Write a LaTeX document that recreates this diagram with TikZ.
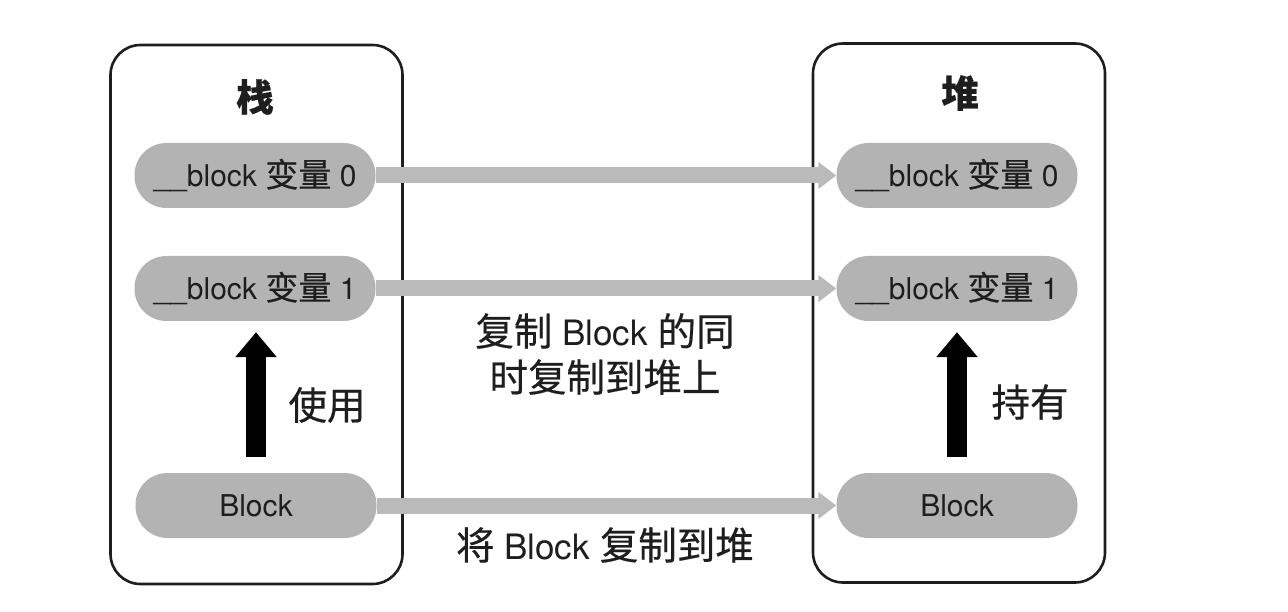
\documentclass[tikz,border=0pt]{standalone}
\usepackage{fontspec}
\setmainfont{TeX Gyre Heros}
\setsansfont{TeX Gyre Heros}
\newfontfamily\cjk{Noto Sans CJK SC}[Scale=1.1, FakeBold=0.5]
\usetikzlibrary{arrows.meta}
\definecolor{ink}{HTML}{1E1E1E}
\definecolor{pillgray}{HTML}{B3B3B3}
\definecolor{arrowgray}{HTML}{BABABA}
\tikzset{
  frame/.style={draw=ink, line width=2.6pt, rounded corners=30pt, minimum width=292pt, minimum height=539pt},
  title/.style={text=ink, font=\fontsize{34}{40}\selectfont\bfseries},
  pill/.style={fill=pillgray, rounded corners=32pt, minimum width=241pt, minimum height=65pt, inner sep=0pt,
    text=ink, font=\fontsize{30}{34}\selectfont},
  copyarrow/.style={draw=arrowgray, line width=16pt, -{Triangle[width=26pt,length=18pt]}},
  usearrow/.style={draw=black, line width=20pt, -{Triangle[width=40pt,length=25pt]}, shorten <=16pt, shorten >=11pt},
  label/.style={text=ink, font=\fontsize{35}{46}\selectfont, align=center},
}
\begin{document}
\begin{tikzpicture}[x=1pt, y=-1pt]
\useasboundingbox (0,0) rectangle (1288,612);
% stack and heap frames
\node[frame] (stack) at (256.5,314.5) {};
\node[frame] (heap) at (959,313) {};
\node[title] (stacktitle) at (255,97) {\cjk 栈};
\node[title] (heaptitle) at (960,93) {\cjk 堆};
% stack side
\node[pill] (s0) at (255,175.5) {\_\_block {\cjk 变量} 0};
\node[pill] (s1) at (255,288.5) {\_\_block {\cjk 变量} 1};
\node[pill] (sb) at (256,505.5) {Block};
% heap side
\node[pill] (h0) at (957,175.5) {\_\_block {\cjk 变量} 0};
\node[pill] (h1) at (957,288.5) {\_\_block {\cjk 变量} 1};
\node[pill] (hb) at (957,505.5) {Block};
% copies from stack to heap
\draw[copyarrow] (s0.east) -- (h0.west);
\draw[copyarrow] (s1.east) -- (h1.west);
\draw[copyarrow] (sb.east) -- (hb.west);
% references inside each side
\draw[usearrow] (sb.north) -- (sb.north |- s1.south);
\draw[usearrow] (hb.north) -- (hb.north |- h1.south);
\node[label] (uselabel) at (327,405) {\cjk 使用};
\node[label] (holdlabel) at (1030,402) {\cjk 持有};
\node[label] (copyvars) at (605,354) {{\cjk 复制} Block {\cjk 的同}\\{\cjk 时复制到堆上}};
\node[label] (copyblock) at (605,545) {{\cjk 将} Block {\cjk 复制到堆}};
\end{tikzpicture}
\end{document}
